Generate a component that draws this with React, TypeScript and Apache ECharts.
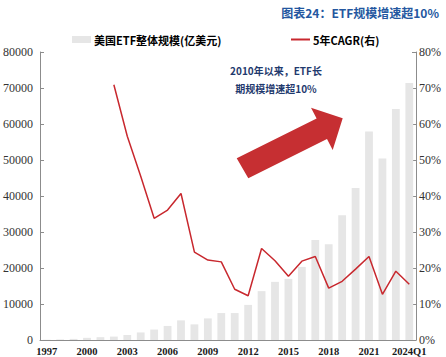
import React, { useEffect, useRef } from "react";
import * as echarts from "echarts";

const categories = [
  "1997", "1998", "1999", "2000", "2001", "2002", "2003", "2004", "2005", "2006",
  "2007", "2008", "2009", "2010", "2011", "2012", "2013", "2014", "2015", "2016",
  "2017", "2018", "2019", "2020", "2021", "2022", "2023", "2024Q1",
];

// 美国ETF整体规模(亿美元)
const aumValues = [
  70, 150, 300, 600, 780, 950, 1400, 2100, 2900, 3900,
  5450, 4340, 6000, 7480, 7480, 9750, 13570, 16150, 16980, 20300,
  27780, 26590, 34630, 42190, 57900, 50450, 64200, 71400,
];

// 5年CAGR(右), %
const cagrValues: (number | null)[] = [
  null, null, null, null, null, 70.9, 56.6, 45.5, 33.8, 36.1,
  40.7, 24.4, 22.2, 21.7, 14.1, 12.3, 25.4, 22.0, 17.7, 21.9,
  23.2, 14.4, 16.3, 19.7, 23.2, 12.7, 19.1, 15.5,
];

const leftTicks = { min: 0, max: 80000, interval: 10000 };
const rightTicks = { min: 0, max: 80, interval: 10 };

const titleText = "图表24：ETF规模增速超10%";
const noteLines = ["2010年以来，ETF长", "期规模增速超10%"];
const barName = "美国ETF整体规模(亿美元)";
const lineName = "5年CAGR(右)";

export default function App() {
  const ref = useRef<HTMLDivElement>(null);
  useEffect(() => {
    document.body.style.margin = "0";
    if (!ref.current) return;
    const chart = echarts.init(ref.current, null, { renderer: "svg" });
    const serif = "'Liberation Serif', 'Times New Roman', serif";
    const cjk = "Noto Sans CJK SC";
    const axisColor = "#8c8c8c";
    chart.setOption({
      animation: false,
      title: {
        text: titleText,
        right: 2,
        top: 1,
        textStyle: { fontSize: 12, fontWeight: "bold", color: "#2457a0", fontFamily: cjk },
      },
      legend: [
        {
          data: [barName],
          left: 67,
          top: 29,
          icon: "rect",
          itemWidth: 19,
          itemHeight: 7,
          itemGap: 0,
          textStyle: { fontSize: 11, fontWeight: "bold", color: "#000", fontFamily: cjk, padding: [0, 0, 0, -2] },
        },
        {
          data: [lineName],
          left: 286,
          top: 29,
          icon: "rect",
          itemWidth: 19,
          itemHeight: 2,
          textStyle: { fontSize: 11, fontWeight: "bold", color: "#000", fontFamily: cjk, padding: [0, 0, 0, -2] },
        },
      ],
      grid: { left: 34, right: 30, top: 52, bottom: 16, containLabel: false },
      xAxis: {
        type: "category",
        data: categories,
        boundaryGap: true,
        axisLine: { show: true, lineStyle: { color: axisColor, width: 1 } },
        axisTick: { show: false },
        axisLabel: {
          interval: 2,
          margin: 6,
          fontSize: 10.5,
          fontWeight: "bold",
          color: "#1a1a1a",
          fontFamily: serif,
        },
      },
      yAxis: [
        {
          type: "value",
          ...leftTicks,
          axisLine: { show: true, lineStyle: { color: axisColor, width: 1 } },
          axisTick: { show: true, inside: true, length: 4, lineStyle: { color: axisColor } },
          splitLine: { show: false },
          axisLabel: {
            margin: 7,
            fontSize: 12,
            color: "#333",
            fontFamily: serif,
            formatter: (v: number) => String(v),
          },
        },
        {
          type: "value",
          ...rightTicks,
          position: "right",
          axisLine: { show: true, lineStyle: { color: axisColor, width: 1 } },
          axisTick: { show: true, inside: true, length: 4, lineStyle: { color: axisColor } },
          splitLine: { show: false },
          axisLabel: { margin: 3, fontSize: 12, color: "#333", fontFamily: serif, formatter: "{value}%" },
        },
      ],
      series: [
        {
          name: barName,
          type: "bar",
          data: aumValues,
          barWidth: "58%",
          itemStyle: { color: "#e6e6e6" },
          yAxisIndex: 0,
          z: 1,
        },
        {
          name: lineName,
          type: "line",
          data: cagrValues,
          yAxisIndex: 1,
          showSymbol: false,
          symbol: "none",
          lineStyle: { color: "#c8282e", width: 1.5 },
          itemStyle: { color: "#c8282e" },
          z: 3,
        },
      ],
      graphic: [
        {
          type: "polygon",
          shape: {
            points: [
              [236.7, 158.3],
              [316.6, 118.4],
              [311, 107.7],
              [342.7, 118.3],
              [332.7, 150],
              [327, 139],
              [248.3, 178.3],
            ],
          },
          style: { fill: "#c62f32" },
          z: 10,
        },
        {
          type: "text",
          x: 276,
          y: 70,
          style: {
            text: noteLines[0],
            fontSize: 10,
            fontWeight: "bold",
            fill: "#1f3a6e",
            fontFamily: cjk,
            align: "center",
            verticalAlign: "middle",
          },
          z: 10,
        },
        {
          type: "text",
          x: 276,
          y: 88,
          style: {
            text: noteLines[1],
            fontSize: 10,
            fontWeight: "bold",
            fill: "#1f3a6e",
            fontFamily: cjk,
            align: "center",
            verticalAlign: "middle",
          },
          z: 10,
        },
      ],
    });
    return () => chart.dispose();
  }, []);
  return <div ref={ref} style={{ width: 446, height: 357 }} />;
}
